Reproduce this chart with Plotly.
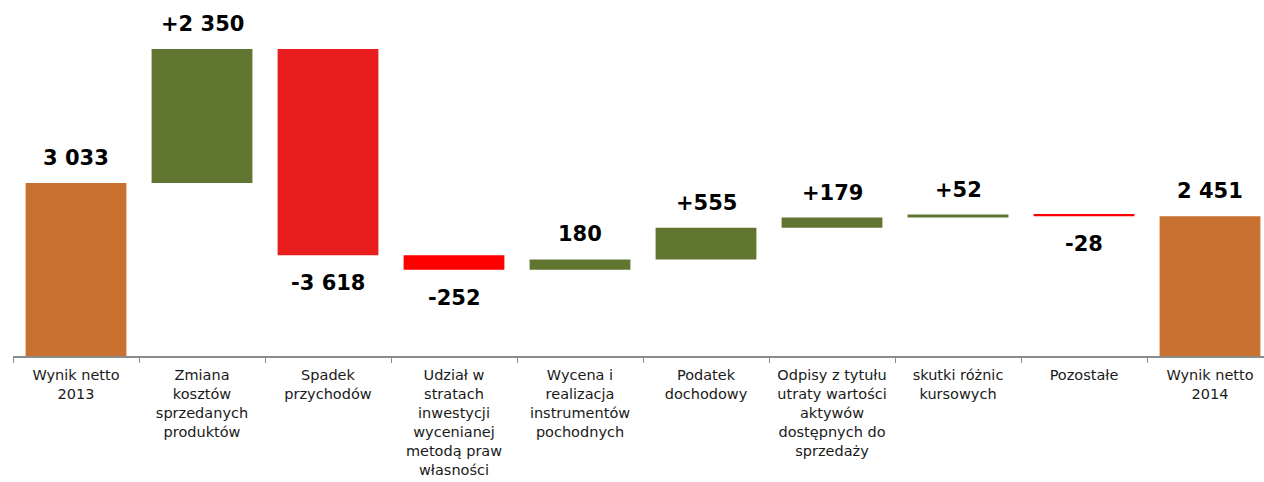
import plotly.graph_objects as go

categories = [
    "Wynik netto<br>2013",
    "Zmiana<br>kosztów<br>sprzedanych<br>produktów",
    "Spadek<br>przychodów",
    "Udział w<br>stratach<br>inwestycji<br>wycenianej<br>metodą praw<br>własności",
    "Wycena i<br>realizacja<br>instrumentów<br>pochodnych",
    "Podatek<br>dochodowy",
    "Odpisy z tytułu<br>utraty wartości<br>aktywów<br>dostępnych do<br>sprzedaży",
    "skutki różnic<br>kursowych",
    "Pozostałe",
    "Wynik netto<br>2014",
]
values = [3033, 2350, -3618, -252, 180, 555, 179, 52, -28, 2451]
kinds = ["total", "delta", "delta", "delta", "delta", "delta", "delta", "delta", "delta", "total"]
value_labels = ["3 033", "+2 350", "-3 618", "-252", "180", "+555", "+179", "+52", "-28", "2 451"]
colors = ["#C87130", "#607630", "#E81C1C", "#FF0000", "#607630", "#607630",
          "#607630", "#607630", "#FF0000", "#C87130"]

bases, lengths = [], []
running = 0
for v, k in zip(values, kinds):
    if k == "total":
        bases.append(0)
        lengths.append(v)
        running = v
    else:
        bases.append(running)
        lengths.append(v)
        running += v

fig = go.Figure()
fig.add_trace(go.Bar(
    x=categories, y=lengths, base=bases,
    marker=dict(color=colors, line=dict(width=0)),
    width=0.8, hoverinfo="skip",
))

for c, b, l, t in zip(categories, bases, lengths, value_labels):
    up = l >= 0
    fig.add_annotation(x=c, y=b + l, text="<b>" + t + "</b>", showarrow=False,
                       yanchor="middle", yshift=25 if up else -28,
                       font=dict(size=21, color="black", family="DejaVu Sans"))

fig.update_layout(
    width=1264, height=482,
    margin=dict(l=13, r=0, t=0, b=126),
    paper_bgcolor="white", plot_bgcolor="white",
    showlegend=False,
    bargap=0.2,
    font=dict(family="DejaVu Sans", size=14.5, color="#1a1a1a"),
)
fig.update_xaxes(
    type="category", range=[-0.5, 9.4286], automargin=False,
    showline=True, linecolor="#8C8C8C", linewidth=2,
    ticks="outside", tickson="boundaries", ticklen=5, tickcolor="#8C8C8C", tickwidth=1,
    showgrid=False, zeroline=False, ticklabelstandoff=5,
    tickfont=dict(size=14.5, family="DejaVu Sans", color="#1a1a1a"),
)
fig.update_yaxes(range=[0, 6242], visible=False, showgrid=False, zeroline=False,
                 automargin=False)

fig.write_html("out.html", config={"displayModeBar": False},
               post_script="document.body.style.margin='0';document.body.style.overflow='hidden';")
